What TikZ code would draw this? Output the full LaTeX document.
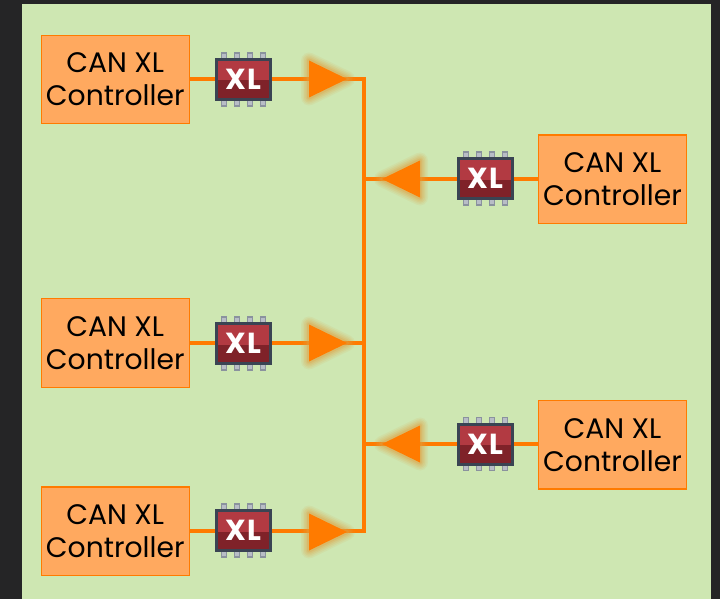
\documentclass[tikz,border=0pt]{standalone}
\usepackage{fontspec}
\setmainfont{Poppins}
\usetikzlibrary{calc}
\definecolor{pagedark}{HTML}{252526}
\definecolor{panel}{HTML}{CEE7B2}
\definecolor{boxfill}{HTML}{FFA95F}
\definecolor{wirecol}{HTML}{FF7B00}
\definecolor{chipedge}{HTML}{3A4453}
\definecolor{chiptop}{HTML}{B23A42}
\definecolor{chipbot}{HTML}{7F2229}
\definecolor{pincol}{HTML}{B8BDC6}
\definecolor{pinedge}{HTML}{8A929E}
\definecolor{glowcol}{HTML}{E0A040}
\tikzset{
  x=1pt,y=-1pt,
  ctrlbox/.style={draw=wirecol,line width=1.3pt,fill=boxfill,minimum width=148pt,minimum height=88.5pt,
    inner sep=0pt,align=center,font=\fontsize{28.2}{33}\selectfont,text=black},
  wire/.style={draw=wirecol,line width=4pt},
  chipbody/.style={draw=chipedge,line width=3pt,minimum width=54pt,minimum height=40pt,inner sep=0pt,
    font=\fontsize{29}{29}\bfseries\addfontfeatures{LetterSpace=5}\selectfont,text=white,
    path picture={
      \fill[chipbot] (path picture bounding box.south west) rectangle (path picture bounding box.north east);
      \fill[chiptop] (path picture bounding box.north west) rectangle ($(path picture bounding box.east)+(0,1)$);
    }},
  pin/.style={fill=pincol,draw=pinedge,line width=1.5pt},
}
\newcommand{\makechip}[3]{%
  \foreach \dx in {-19.5,-6.5,6.5,19.5}{
    \filldraw[pin] ($(#1,#2)+(\dx-2.5,-26.5)$) rectangle ($(#1,#2)+(\dx+2.5,26.5)$);
  }
  \node[chipbody] (#3) at (#1,#2) {XL};
}
\newcommand{\makearrow}[3]{% base x, y, tip x
  \foreach \w/\o in {16/.10,13/.12,10/.16,7/.2,4/.3}{
    \draw[glowcol,opacity=\o,line width=\w pt,line join=round,fill=none] (#1,#2-18.5) -- (#3,#2) -- (#1,#2+18.5) -- cycle;
  }
  \fill[wirecol] (#1,#2-18.5) -- (#3,#2) -- (#1,#2+18.5) -- cycle;
}
\begin{document}
\begin{tikzpicture}
\useasboundingbox (0,0) rectangle (720,599);
\fill[pagedark] (0,0) rectangle (720,599);
\fill[panel] (22,4) rectangle (711,599);

\coordinate (jA) at (363.5,79);
\coordinate (jB) at (363.5,179);
\coordinate (jC) at (363.5,343);
\coordinate (jD) at (363.5,444);
\coordinate (jE) at (363.5,531);

\node[ctrlbox] (ctrlA) at (115.25,79.5) {CAN XL\\Controller};
\node[ctrlbox] (ctrlC) at (115.25,343) {CAN XL\\Controller};
\node[ctrlbox] (ctrlE) at (115.25,531.25) {CAN XL\\Controller};
\node[ctrlbox] (ctrlB) at (612.5,179.25) {CAN XL\\Controller};
\node[ctrlbox] (ctrlD) at (612.5,444.75) {CAN XL\\Controller};

\makechip{243.5}{79.5}{chipA}
\makechip{243.5}{343.5}{chipC}
\makechip{243.5}{530.5}{chipE}
\makechip{485.5}{178.5}{chipB}
\makechip{485.5}{444}{chipD}

\draw[wire,line cap=rect] (jA) -- (jE);
\foreach \c/\h/\j in {ctrlA/chipA/jA,ctrlC/chipC/jC,ctrlE/chipE/jE}{
  \draw[wire] (\c.east |- \j) -- (\h.west |- \j);
  \draw[wire] (\h.east |- \j) -- (\j);
}
\foreach \c/\h/\j in {ctrlB/chipB/jB,ctrlD/chipD/jD}{
  \draw[wire] (\c.west |- \j) -- (\h.east |- \j);
  \draw[wire] (\h.west |- \j) -- (\j);
}

\makearrow{309}{79}{347}
\makearrow{309}{343}{347}
\makearrow{309}{532}{347}
\makearrow{420}{179}{382}
\makearrow{420}{444}{382}
\end{tikzpicture}
\end{document}
